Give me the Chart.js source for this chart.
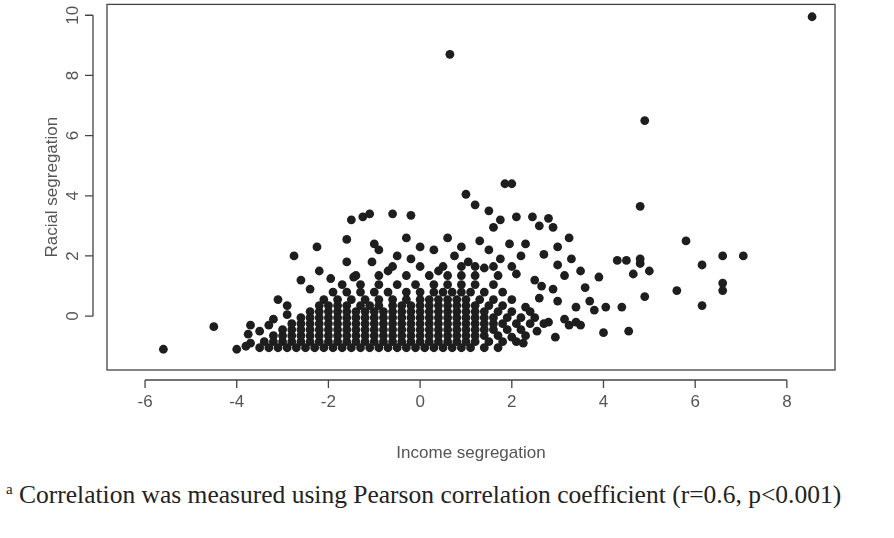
<!DOCTYPE html>
<html>
<head>
<meta charset="utf-8">
<script src="https://cdn.jsdelivr.net/npm/chart.js@4"></script>
<style>
body{margin:0;background:#fff;width:894px;height:538px;overflow:hidden;}
#wrap{position:relative;width:894px;height:470px;}
#note{position:absolute;left:6px;top:480px;font-family:"Liberation Serif",serif;font-size:25.5px;color:#222;white-space:nowrap;}
#note sup{font-size:15px;}
</style>
</head>
<body>
<div id="wrap"><canvas id="chart" width="894" height="470"></canvas></div>
<div id="note"><sup>a</sup> Correlation was measured using Pearson correlation coefficient (r=0.6, p&lt;0.001)</div>
<script>

/* ================= DATA ================= */

let xTicks = [-6,-4,-2,0,2,4,6,8];
let yTicks = [0,2,4,6,8,10];
let xTitle = "Income segregation";
let yTitle = "Racial segregation";

// scattered points [income, racial]
let outliers = [
[8.55,9.95],[0.65,8.7],[4.9,6.5],[4.8,3.65],[1.85,4.4],[2.0,4.4],[1.0,4.05],[1.2,3.7],
[5.8,2.5],[7.05,2.0],[6.6,2.0],[6.15,1.7],[6.6,1.1],[6.6,0.85],[6.15,0.35],[5.6,0.85],
[4.9,0.65],[4.8,1.9],[4.8,1.75],[5.0,1.5],[4.3,1.85],[4.5,1.85],[4.65,1.4],[4.4,0.3],
[4.05,0.3],[4.55,-0.5],[4.0,-0.55],[3.7,0.5],[3.8,0.2],[3.6,0.95],[3.5,1.5],[3.3,1.9],
[3.15,1.35],[2.8,3.25],[2.6,3.0],[2.45,3.3],[2.9,2.95],[2.1,3.3],[1.75,3.2],[1.6,2.95],
[1.5,3.5],[3.0,2.3],[3.25,2.6],[2.7,2.05],[2.5,1.2],[2.2,2.0],[3.0,1.7],[3.15,-0.1],
[3.25,-0.3],[2.8,-0.2],[2.95,-0.7],[2.25,-0.9],[2.0,-0.7],[2.55,-0.5],[3.0,0.5],[2.6,0.6],
[2.3,0.3],[2.1,1.4],[2.65,1.0],[2.9,0.9],[3.4,0.3],[3.5,-0.3],[3.9,1.3],[3.4,-0.2],
[-5.6,-1.1],[-4.5,-0.35],[-4.0,-1.1],[-3.7,-0.3],[-3.75,-0.6],[-3.7,-0.9],[-3.8,-1.0],
[-3.1,0.55],[-2.75,2.0],[-2.25,2.3],[-1.5,3.2],[-1.25,3.3],[-1.1,3.4],[-0.6,3.4],[-0.2,3.35],
[-0.3,2.6],[-1.6,2.55],[-1.0,2.4],[-0.9,2.2],[-1.95,1.25],[-2.9,0.35],[-2.9,0.05],[-2.2,1.5],
[-1.6,1.8],[-1.45,1.3],[-1.05,1.8],[-0.5,2.0],[-0.2,1.9],[0.0,2.3],[0.3,2.2],[0.6,2.6],
[0.75,2.0],[0.9,2.3],[1.05,1.8],[1.3,2.5],[1.5,2.2],[1.75,1.9],[1.95,2.4],[2.3,2.4],
[1.4,1.6],[0.4,1.5],[-0.7,1.5],[-2.4,0.9],[-2.6,1.2],[-3.3,-0.3],[-3.5,-0.5],[-3.2,-0.1]
];

// dense core, one row per racial value: [racial, [income values]]
let coreRows = [
[-1.05,[-3.5,-3.3,-3.1,-2.9,-2.7,-2.5,-2.3,-2.1,-1.9,-1.7,-1.5,-1.3,-1.1,-0.9,-0.7,-0.5,-0.3,-0.1,0.1,0.3,0.5,0.7,0.9,1.1,1.4,1.7]],
[-0.85,[-3.4,-3.2,-3.0,-2.8,-2.6,-2.4,-2.2,-2.0,-1.8,-1.6,-1.4,-1.2,-1.0,-0.8,-0.6,-0.4,-0.2,0.0,0.2,0.4,0.6,0.8,1.0,1.2,1.5,1.8,2.1]],
[-0.65,[-3.2,-3.0,-2.8,-2.6,-2.4,-2.2,-2.0,-1.8,-1.6,-1.4,-1.2,-1.0,-0.8,-0.6,-0.4,-0.2,0.0,0.2,0.4,0.6,0.8,1.0,1.2,1.4,1.7,2.3]],
[-0.45,[-3.0,-2.8,-2.6,-2.4,-2.2,-2.0,-1.8,-1.6,-1.4,-1.2,-1.0,-0.8,-0.6,-0.4,-0.2,0.0,0.2,0.4,0.6,0.8,1.0,1.2,1.4,1.6,1.9,2.2]],
[-0.25,[-2.8,-2.6,-2.4,-2.2,-2.0,-1.8,-1.6,-1.4,-1.2,-1.0,-0.8,-0.6,-0.4,-0.2,0.0,0.2,0.4,0.6,0.8,1.0,1.2,1.4,1.6,1.8,2.1,2.4,2.7]],
[-0.05,[-2.6,-2.4,-2.2,-2.0,-1.8,-1.6,-1.4,-1.2,-1.0,-0.8,-0.6,-0.4,-0.2,0.0,0.2,0.4,0.6,0.8,1.0,1.2,1.4,1.6,1.9,2.2,2.5]],
[0.15,[-2.4,-2.2,-2.0,-1.8,-1.6,-1.4,-1.2,-1.0,-0.8,-0.6,-0.4,-0.2,0.0,0.2,0.4,0.6,0.8,1.0,1.2,1.4,1.7,2.0,2.4]],
[0.35,[-2.2,-2.0,-1.8,-1.6,-1.3,-1.1,-0.9,-0.6,-0.4,-0.2,0.0,0.2,0.4,0.6,0.8,1.0,1.2,1.5,1.8]],
[0.55,[-2.1,-1.8,-1.5,-1.2,-0.9,-0.6,-0.3,0.0,0.2,0.4,0.6,0.8,1.0,1.3,1.6,2.0]],
[0.8,[-1.9,-1.6,-1.3,-1.0,-0.7,-0.3,0.0,0.3,0.5,0.7,0.9,1.1,1.4,1.8]],
[1.05,[-1.7,-1.3,-0.9,-0.5,-0.1,0.3,0.6,0.9,1.2,1.6]],
[1.35,[-1.4,-0.9,-0.3,0.2,0.6,0.9,1.2,1.7]],
[1.65,[-0.6,0.0,0.5,0.9,1.2,1.6,2.0]]
];

let xMin = -6.83, xMax = 9.05, yMin = -1.79, yMax = 10.36;
let pointColor = "#1e1e1e";

/* ================= BUILD ================= */

let points = outliers.map(p=>({x:p[0],y:p[1]}));
coreRows.forEach(r=>{
r[1].forEach(x=>points.push({x:x,y:r[0]}));
});

/* ================= AXES (R base style) ================= */

let rAxes = {
id:"rAxes",
afterDraw(chart){
let c = chart.ctx;
let a = chart.chartArea;
let sx = chart.scales.x, sy = chart.scales.y;
c.save();
c.strokeStyle = "#444";
c.lineWidth = 1.3;
c.strokeRect(a.left,a.top,a.right-a.left,a.bottom-a.top);

c.fillStyle = "#555";
c.font = "17px 'Liberation Sans', Arial, sans-serif";

// x axis
let ya = a.bottom + 10;
c.beginPath();
c.moveTo(sx.getPixelForValue(xTicks[0]),ya);
c.lineTo(sx.getPixelForValue(xTicks[xTicks.length-1]),ya);
xTicks.forEach(t=>{
let px = sx.getPixelForValue(t);
c.moveTo(px,ya);c.lineTo(px,ya+8);
});
c.stroke();
c.textAlign = "center";
c.textBaseline = "middle";
xTicks.forEach(t=>{
c.fillText(t < 0 ? "-"+Math.abs(t) : String(t),sx.getPixelForValue(t),ya+22);
});
c.fillText(xTitle,(a.left+a.right)/2,a.bottom+83);

// y axis
let xa = a.left - 14;
c.beginPath();
c.moveTo(xa,sy.getPixelForValue(yTicks[0]));
c.lineTo(xa,sy.getPixelForValue(yTicks[yTicks.length-1]));
yTicks.forEach(t=>{
let py = sy.getPixelForValue(t);
c.moveTo(xa,py);c.lineTo(xa-8,py);
});
c.stroke();
yTicks.forEach(t=>{
c.save();
c.translate(xa-20,sy.getPixelForValue(t));
c.rotate(-Math.PI/2);
c.fillText(String(t),0,0);
c.restore();
});
c.save();
c.translate(52,(a.top+a.bottom)/2);
c.rotate(-Math.PI/2);
c.fillText(yTitle,0,0);
c.restore();
c.restore();
}
};

/* ================= CHART ================= */

new Chart(document.getElementById("chart"),{
type:"scatter",
data:{
datasets:[{
data:points,
backgroundColor:pointColor,
borderColor:pointColor,
pointRadius:4.4,
pointBorderWidth:0
}]
},
options:{
responsive:false,
animation:false,
layout:{padding:{left:107,top:3,right:59,bottom:100}},
plugins:{legend:{display:false},tooltip:{enabled:false}},
scales:{
x:{type:"linear",min:xMin,max:xMax,display:false},
y:{type:"linear",min:yMin,max:yMax,display:false}
}
},
plugins:[rAxes]
});
</script>
</body>
</html>
